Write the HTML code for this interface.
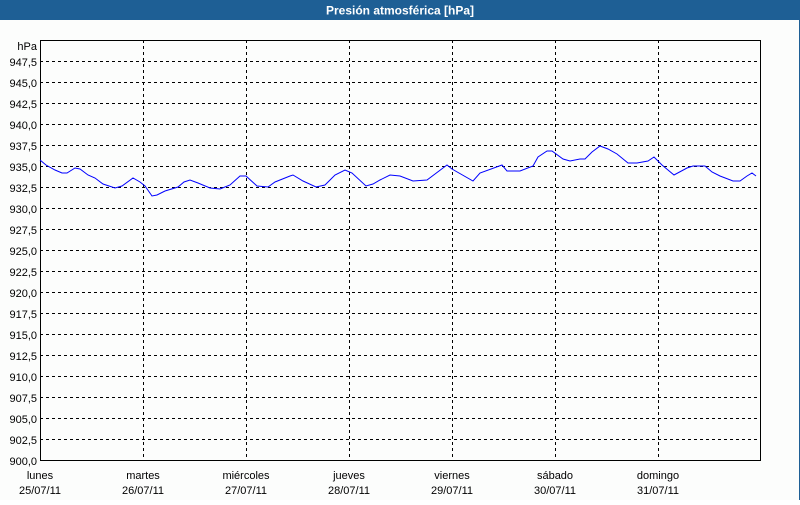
<!DOCTYPE html>
<html><head><meta charset="utf-8"><style>
body{margin:0;background:#fff;}
</style></head><body>
<svg width="800" height="500" xmlns="http://www.w3.org/2000/svg" font-family="Liberation Sans, sans-serif" font-size="11">
<rect x="0" y="0" width="800" height="500" fill="#fcfdfc"/>
<rect x="0" y="0" width="800" height="20" fill="#1e5f95"/>
<rect x="799" y="0" width="1" height="500" fill="#1e5f95"/>
<text x="400" y="14.5" fill="#fff" font-weight="bold" font-size="12" text-anchor="middle">Presión atmosférica [hPa]</text>
<g stroke="#000" stroke-width="1" stroke-dasharray="3,3" shape-rendering="crispEdges">
<line x1="40" x2="760" y1="61.5" y2="61.5"/><line x1="40" x2="760" y1="82.5" y2="82.5"/>
<line x1="40" x2="760" y1="103.5" y2="103.5"/><line x1="40" x2="760" y1="124.5" y2="124.5"/>
<line x1="40" x2="760" y1="145.5" y2="145.5"/><line x1="40" x2="760" y1="166.5" y2="166.5"/>
<line x1="40" x2="760" y1="187.5" y2="187.5"/><line x1="40" x2="760" y1="208.5" y2="208.5"/>
<line x1="40" x2="760" y1="229.5" y2="229.5"/><line x1="40" x2="760" y1="250.5" y2="250.5"/>
<line x1="40" x2="760" y1="271.5" y2="271.5"/><line x1="40" x2="760" y1="292.5" y2="292.5"/>
<line x1="40" x2="760" y1="313.5" y2="313.5"/><line x1="40" x2="760" y1="334.5" y2="334.5"/>
<line x1="40" x2="760" y1="355.5" y2="355.5"/><line x1="40" x2="760" y1="376.5" y2="376.5"/>
<line x1="40" x2="760" y1="397.5" y2="397.5"/><line x1="40" x2="760" y1="418.5" y2="418.5"/>
<line x1="40" x2="760" y1="439.5" y2="439.5"/>
<line x1="143.5" x2="143.5" y1="40" y2="461"/><line x1="246.5" x2="246.5" y1="40" y2="461"/>
<line x1="349.5" x2="349.5" y1="40" y2="461"/><line x1="452.5" x2="452.5" y1="40" y2="461"/>
<line x1="555.5" x2="555.5" y1="40" y2="461"/><line x1="658.5" x2="658.5" y1="40" y2="461"/>
</g>
<rect x="40.5" y="40.5" width="720" height="420" fill="none" stroke="#000" shape-rendering="crispEdges"/>
<polyline fill="none" stroke="#0000ff" stroke-width="1" points="40,160 46,165 55,170 62,173 67,173 75,168 80,169 88,175 95,178 103,184 115,188 122,186 133,178 140,182 145,186 152,196 157,195 165,191 178,187 184,182 190,180 198,183 210,188 220,189 230,185 240,176 246,176 257,186 268,187 275,182 290,176 293,175 303,181 316,187 325,185 335,175 345,170 352,173 366,186 373,184 380,180 390,175 400,176 413,181 427,180 447,165 452,169 473,181 480,173 502,165 507,171 520,171 533,166 538,157 547,151 552,151 563,159 570,161 580,159 585,159 592,152 600,146 608,149 617,154 628,163 637,163 648,161 654,157 657,160 662,165 674,175 687,168 693,166 705,166 712,172 720,176 733,181 740,181 747,176 752,173 756,176"/>
<g text-anchor="end" fill="#000">
<text x="37" y="50">hPa</text>
<text x="37" y="66">947,5</text><text x="37" y="87">945,0</text><text x="37" y="108">942,5</text>
<text x="37" y="129">940,0</text><text x="37" y="150">937,5</text><text x="37" y="171">935,0</text>
<text x="37" y="192">932,5</text><text x="37" y="213">930,0</text><text x="37" y="234">927,5</text>
<text x="37" y="255">925,0</text><text x="37" y="276">922,5</text><text x="37" y="297">920,0</text>
<text x="37" y="318">917,5</text><text x="37" y="339">915,0</text><text x="37" y="360">912,5</text>
<text x="37" y="381">910,0</text><text x="37" y="402">907,5</text><text x="37" y="423">905,0</text>
<text x="37" y="444">902,5</text><text x="37" y="465">900,0</text>
</g>
<g text-anchor="middle" fill="#000">
<text x="40" y="479">lunes</text><text x="40" y="494">25/07/11</text>
<text x="143" y="479">martes</text><text x="143" y="494">26/07/11</text>
<text x="246" y="479">miércoles</text><text x="246" y="494">27/07/11</text>
<text x="349" y="479">jueves</text><text x="349" y="494">28/07/11</text>
<text x="452" y="479">viernes</text><text x="452" y="494">29/07/11</text>
<text x="555" y="479">sábado</text><text x="555" y="494">30/07/11</text>
<text x="658" y="479">domingo</text><text x="658" y="494">31/07/11</text>
</g>
</svg>
</body></html>
